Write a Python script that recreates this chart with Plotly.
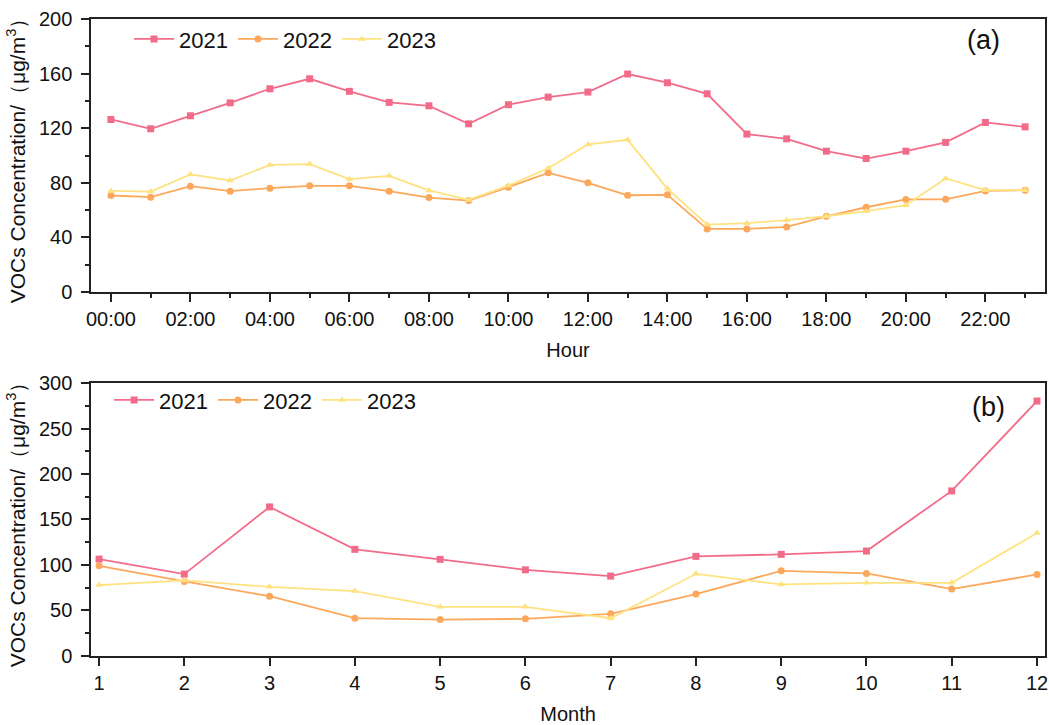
import plotly.graph_objects as go

hours = list(range(24))
hour_labels = ["00:00", "02:00", "04:00", "06:00", "08:00", "10:00",
               "12:00", "14:00", "16:00", "18:00", "20:00", "22:00"]
hour_ticks = list(range(0, 24, 2))

h2021 = [126.4, 119.6, 129.1, 138.6, 148.9, 156.2, 147.0, 138.9, 136.4, 123.2, 137.2, 142.8,
         146.5, 159.7, 153.3, 145.2, 115.7, 112.2, 103.2, 97.8, 103.2, 109.6, 124.2, 121.0]
h2022 = [70.7, 69.5, 77.5, 73.9, 76.1, 77.8, 77.8, 73.9, 69.2, 67.0, 76.8, 87.3,
         80.0, 70.9, 71.2, 46.2, 46.2, 47.7, 55.5, 62.1, 67.8, 67.9, 74.1, 74.6]
h2023 = [74.1, 73.6, 86.1, 81.7, 93.1, 93.7, 82.7, 85.1, 74.4, 67.5, 78.0, 90.7,
         108.1, 111.5, 75.8, 49.4, 50.4, 52.6, 55.5, 59.2, 63.6, 83.2, 74.6, 74.6]

months = list(range(1, 13))
m2021 = [106.5, 90.0, 163.8, 117.2, 106.2, 94.7, 87.8, 109.5, 111.7, 115.3, 181.4, 280.2]
m2022 = [99.1, 81.9, 65.7, 41.5, 40.0, 40.8, 46.3, 68.0, 93.6, 90.7, 73.5, 89.6]
m2023 = [77.9, 83.0, 76.0, 71.3, 54.0, 54.0, 41.5, 90.3, 78.6, 80.4, 80.4, 135.1]

years = ["2021", "2022", "2023"]
colors = ["rgb(242,108,138)", "rgb(252,168,92)", "rgb(255,226,128)"]
symbols = ["square", "circle", "triangle-up"]

fig = go.Figure()

for name, ys, c, s in zip(years, [h2021, h2022, h2023], colors, symbols):
    fig.add_trace(go.Scatter(x=hours, y=ys, mode="lines+markers", name=name,
                             line=dict(color=c, width=1.8),
                             marker=dict(color=c, symbol=s, size=7),
                             xaxis="x", yaxis="y", legend="legend"))
for name, ys, c, s in zip(years, [m2021, m2022, m2023], colors, symbols):
    fig.add_trace(go.Scatter(x=months, y=ys, mode="lines+markers", name=name,
                             line=dict(color=c, width=1.8),
                             marker=dict(color=c, symbol=s, size=7),
                             xaxis="x2", yaxis="y2", legend="legend2"))

font_family = "Liberation Sans, Arial, sans-serif"
axis_common = dict(showline=True, linecolor="#222", linewidth=1.5, mirror=True,
                   ticks="outside", tickcolor="#222", tickwidth=1.5, ticklen=8,
                   showgrid=False, zeroline=False, automargin=False,
                   tickfont=dict(size=20, color="#111", family=font_family))
minor_common = dict(ticks="outside", ticklen=4, tickcolor="#222", tickwidth=1.5)

ytitle = "VOCs Concentration/（μg/m<sup>3</sup>）"

fig.update_layout(
    width=1049, height=725,
    margin=dict(l=0, r=0, t=0, b=0),
    paper_bgcolor="white", plot_bgcolor="white",
    font=dict(family=font_family, color="#111"),
    xaxis=dict(domain=[0.0868, 0.9962], range=[-0.5, 23.5],
               tickvals=hour_ticks, ticktext=hour_labels,
               minor=dict(dtick=1, tick0=0, **minor_common),
               title=dict(text="Hour", font=dict(size=20), standoff=14),
               anchor="y", **axis_common),
    yaxis=dict(domain=[0.5972, 0.9738], range=[0, 200], dtick=40, tick0=0,
               minor=dict(dtick=20, **minor_common),
               ticklabelstandoff=5,
               title=dict(text=ytitle, font=dict(size=21), standoff=8),
               anchor="x", **axis_common),
    xaxis2=dict(domain=[0.0868, 0.9962], range=[0.906, 12.094],
                tickvals=months, ticktext=[str(m) for m in months],
                title=dict(text="Month", font=dict(size=20), standoff=16),
                anchor="y2", **axis_common),
    yaxis2=dict(domain=[0.0952, 0.4717], range=[0, 300], dtick=50, tick0=0,
                minor=dict(dtick=25, **minor_common),
                ticklabelstandoff=5,
                title=dict(text=ytitle, font=dict(size=21), standoff=8),
                anchor="x2", **axis_common),
    legend=dict(orientation="h", x=0.123, y=0.975, xanchor="left", yanchor="top",
                bgcolor="rgba(0,0,0,0)", font=dict(size=22), itemwidth=40,
                tracegroupgap=0),
    legend2=dict(orientation="h", x=0.104, y=0.477, xanchor="left", yanchor="top",
                 bgcolor="rgba(0,0,0,0)", font=dict(size=22), itemwidth=40,
                 tracegroupgap=0),
    annotations=[
        dict(text="(a)", x=983 / 1049, y=1 - 40 / 725, xref="paper", yref="paper",
             xanchor="center", yanchor="middle",
             showarrow=False, font=dict(size=27, color="#111")),
        dict(text="(b)", x=988 / 1049, y=1 - 407 / 725, xref="paper", yref="paper",
             xanchor="center", yanchor="middle",
             showarrow=False, font=dict(size=27, color="#111")),
    ],
)

fig.write_html("out.html")
